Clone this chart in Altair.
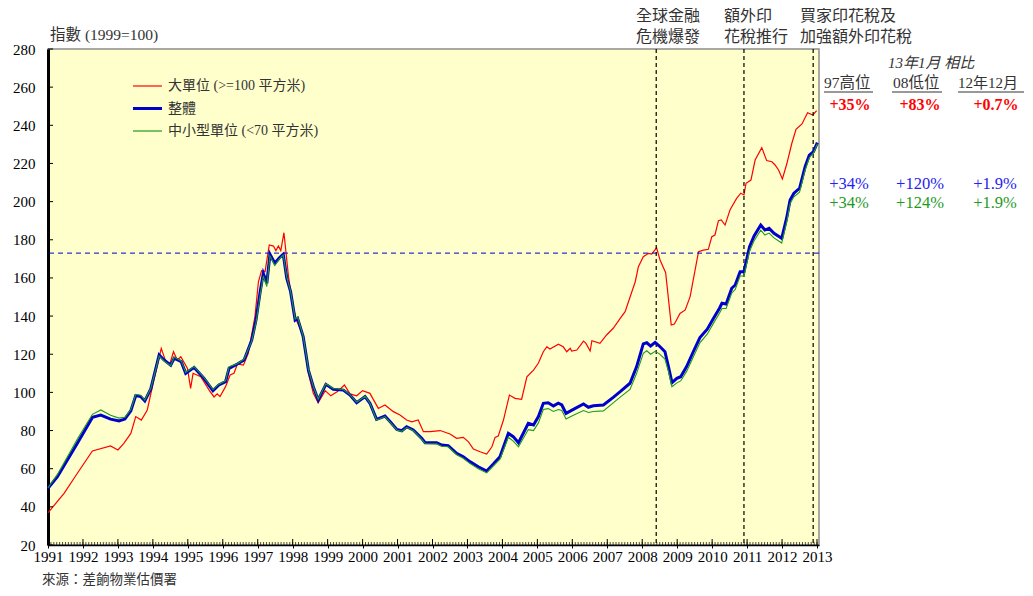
import altair as alt
import pandas as pd

# ---------------- data ----------------
S_LARGE = "大單位 (>=100 平方米)"
S_ALL = "整體"
S_SMALL = "中小型單位 (<70 平方米)"

red_x = [1991.00, 1991.46, 1991.84, 1992.27, 1992.79, 1993.00, 1993.17, 1993.37, 1993.51, 1993.67,
         1993.84, 1994.03, 1994.24, 1994.37, 1994.49, 1994.59, 1994.70, 1994.80, 1994.99, 1995.08,
         1995.15, 1995.37, 1995.61, 1995.75, 1995.84, 1995.92, 1996.08, 1996.21, 1996.32, 1996.42,
         1996.59, 1996.73, 1996.92, 1997.02, 1997.11, 1997.21, 1997.33, 1997.45, 1997.52, 1997.59,
         1997.66, 1997.75, 1997.88, 1998.02, 1998.12, 1998.29, 1998.45, 1998.59, 1998.73, 1998.93,
         1999.09, 1999.28, 1999.48, 1999.64, 1999.83, 2000.00, 2000.21, 2000.45, 2000.64, 2000.88,
         2001.07, 2001.26, 2001.41, 2001.59, 2001.74, 2001.93, 2002.22, 2002.50, 2002.69, 2002.88,
         2003.03, 2003.17, 2003.36, 2003.55, 2003.70, 2003.79, 2003.88, 2004.03, 2004.20, 2004.36,
         2004.55, 2004.70, 2004.89, 2005.03, 2005.17, 2005.27, 2005.36, 2005.60, 2005.74, 2005.84,
         2005.94, 2005.98, 2006.13, 2006.32, 2006.39, 2006.51, 2006.56, 2006.79, 2006.98, 2007.17,
         2007.37, 2007.51, 2007.80, 2007.89, 2008.03, 2008.18, 2008.27, 2008.41, 2008.51, 2008.67,
         2008.83, 2008.92, 2009.08, 2009.23, 2009.37, 2009.61, 2009.75, 2009.89, 2009.99, 2010.08,
         2010.18, 2010.26, 2010.37, 2010.51, 2010.70, 2010.82, 2010.91, 2010.97, 2011.11, 2011.23,
         2011.42, 2011.56, 2011.71, 2011.80, 2011.90, 2012.01, 2012.14, 2012.28, 2012.40, 2012.57,
         2012.73, 2012.88, 2012.99]
red_y = [36.9, 47.1, 57.6, 69.3, 71.9, 69.8, 73.3, 78.5, 87.3, 85.5,
         90.8, 106.5, 123.1, 116.1, 115.2, 121.3, 117.0, 118.7, 112.6, 102.1,
         110.0, 108.2, 101.2, 97.6, 99.2, 97.8, 103.0, 109.1, 110.0, 114.9,
         114.3, 120.5, 139.7, 158.0, 163.8, 163.3, 177.3, 176.7, 174.3, 176.7,
         174.3, 183.7, 160.7, 144.1, 137.2, 130.3, 110.0, 99.5, 94.6, 100.9,
         98.2, 100.4, 103.9, 99.2, 98.2, 100.9, 99.5, 91.6, 93.4, 89.9,
         88.1, 85.5, 84.6, 85.5, 79.4, 79.4, 80.0, 78.2, 75.9, 76.4,
         74.1, 70.3, 68.9, 67.7, 71.5, 76.4, 77.1, 85.5, 98.6, 96.9,
         96.4, 108.2, 111.7, 115.4, 121.3, 123.9, 122.7, 125.3, 123.9, 121.3,
         123.1, 121.7, 122.2, 126.9, 125.7, 121.7, 127.1, 125.7, 130.1, 133.6,
         138.8, 142.3, 158.0, 165.9, 171.1, 172.9, 172.5, 175.8, 169.4, 162.7,
         135.3, 135.8, 141.4, 143.2, 150.2, 173.7, 174.6, 175.0, 181.6, 182.5,
         190.0, 190.4, 187.7, 195.6, 201.7, 204.4, 203.5, 209.6, 211.3, 221.8,
         228.3, 221.5, 220.9, 219.2, 216.6, 211.9, 220.1, 230.6, 237.9, 240.7,
         246.6, 245.4, 247.7]

all_x = [1991.00, 1991.27, 1991.84, 1992.27, 1992.51, 1992.79, 1993.03, 1993.20, 1993.37, 1993.51,
         1993.65, 1993.77, 1993.94, 1994.18, 1994.32, 1994.51, 1994.61, 1994.81, 1994.94, 1995.18,
         1995.46, 1995.72, 1995.89, 1996.08, 1996.18, 1996.42, 1996.61, 1996.83, 1996.95, 1997.07,
         1997.16, 1997.26, 1997.35, 1997.49, 1997.62, 1997.73, 1997.83, 1997.94, 1998.07, 1998.14,
         1998.30, 1998.45, 1998.59, 1998.73, 1998.95, 1999.16, 1999.45, 1999.64, 1999.83, 2000.07,
         2000.21, 2000.40, 2000.64, 2000.79, 2000.98, 2001.12, 2001.26, 2001.45, 2001.69, 2001.79,
         2002.12, 2002.26, 2002.45, 2002.69, 2002.88, 2003.07, 2003.31, 2003.55, 2003.74, 2003.93,
         2004.17, 2004.31, 2004.46, 2004.74, 2004.89, 2005.03, 2005.17, 2005.31, 2005.46, 2005.60,
         2005.70, 2005.82, 2006.03, 2006.32, 2006.46, 2006.60, 2006.89, 2007.17, 2007.37, 2007.65,
         2007.84, 2008.03, 2008.13, 2008.24, 2008.37, 2008.49, 2008.65, 2008.75, 2008.85, 2008.99,
         2009.10, 2009.27, 2009.46, 2009.65, 2009.86, 2010.04, 2010.21, 2010.28, 2010.40, 2010.56,
         2010.66, 2010.80, 2010.91, 2011.07, 2011.20, 2011.39, 2011.51, 2011.63, 2011.77, 2011.99,
         2012.13, 2012.23, 2012.34, 2012.50, 2012.66, 2012.78, 2012.90, 2013.01]
all_y = [49.7, 55.8, 73.3, 86.9, 88.1, 86.0, 85.0, 86.0, 90.4, 98.3,
         97.8, 95.5, 101.8, 119.6, 117.0, 114.3, 117.9, 116.1, 110.0, 113.1,
         107.4, 100.9, 103.9, 105.6, 112.6, 114.9, 117.0, 127.5, 137.9, 152.8,
         162.4, 157.2, 172.4, 167.7, 170.6, 172.4, 159.8, 152.8, 137.9, 138.8,
         129.2, 111.7, 103.0, 96.0, 104.2, 101.6, 101.2, 98.6, 94.6, 97.8,
         94.3, 85.9, 87.6, 84.6, 80.6, 79.9, 82.0, 80.3, 75.9, 73.6,
         73.6, 72.4, 72.1, 68.1, 66.3, 63.7, 61.0, 58.8, 62.4, 66.3,
         78.5, 76.8, 73.6, 83.8, 82.9, 87.3, 94.3, 94.6, 92.9, 94.3,
         93.4, 89.0, 91.1, 93.9, 92.2, 93.0, 93.4, 97.4, 100.4, 104.8,
         113.5, 125.4, 126.0, 124.3, 126.2, 124.3, 121.3, 113.5, 105.1, 107.4,
         108.2, 113.5, 121.3, 128.7, 133.1, 138.8, 144.1, 146.7, 146.3, 154.6,
         156.3, 163.3, 163.3, 176.4, 182.0, 187.7, 185.1, 186.0, 183.4, 180.8,
         191.3, 200.8, 204.4, 207.0, 218.3, 224.4, 226.2, 230.9]
small_y = [50.0, 57.0, 75.5, 88.5, 90.8, 88.0, 86.5, 87.0, 91.0, 99.0,
           98.5, 96.0, 102.0, 119.0, 116.5, 114.0, 118.5, 116.5, 110.5, 113.5,
           107.8, 101.5, 104.3, 106.0, 113.5, 115.0, 117.5, 127.0, 136.5, 151.0,
           161.0, 155.5, 171.5, 166.5, 170.0, 172.0, 160.5, 153.0, 138.5, 139.5,
           129.5, 112.0, 103.0, 96.5, 104.5, 102.0, 101.5, 98.8, 94.8, 98.0,
           94.3, 85.5, 87.3, 84.3, 80.3, 79.6, 81.7, 80.0, 75.5, 73.2,
           73.0, 71.8, 71.5, 67.3, 65.5, 62.8, 60.0, 57.8, 61.5, 65.0,
           76.5, 74.5, 71.5, 80.5, 80.0, 84.0, 91.0, 91.5, 90.0, 91.0,
           90.5, 86.0, 88.0, 90.5, 89.5, 90.0, 90.3, 94.5, 97.5, 101.5,
           110.0, 120.5, 121.8, 120.0, 121.5, 120.2, 117.5, 111.0, 103.0, 105.0,
           106.0, 111.0, 118.5, 126.0, 130.5, 136.3, 141.5, 144.0, 144.0, 152.0,
           154.0, 161.0, 161.0, 174.0, 179.5, 185.0, 182.5, 183.5, 181.0, 178.3,
           189.0, 199.0, 202.5, 205.0, 216.5, 223.0, 225.5, 230.3]

year_ticks = list(range(1991, 2014))
y_ticks = list(range(20, 281, 20))
event_years = [2008.40, 2010.91, 2012.89]
peak_1997 = 173

# ---------------- styling ----------------
W, H = 771, 496
OX, OY = 48, 49  # page position of plot origin
FONT = "'Liberation Serif', 'Noto Sans CJK TC'"
RED = "#FF0000"
BLUE = "#0000CC"
GREEN = "#1E9A1E"

xscale = alt.Scale(domain=[1991, 2013.057], nice=False, zero=False)
yscale = alt.Scale(domain=[20, 280], nice=False, zero=False)

df_red = pd.DataFrame({"x": red_x, "v": red_y, "s": S_LARGE})
df_all = pd.DataFrame({"x": all_x, "v": all_y, "s": S_ALL})
df_small = pd.DataFrame({"x": all_x, "v": small_y, "s": S_SMALL})

x_axis = alt.Axis(values=year_ticks, format="d", labelFont="Liberation Serif",
                  labelFontSize=15, labelColor="black", labelFlush=False,
                  labelOverlap=False, grid=False, tickSize=3, tickColor="black",
                  domainColor="black", domainWidth=1.5, labelPadding=1, title=None)
y_axis = alt.Axis(values=y_ticks, labelFont="Liberation Serif", labelFontSize=15,
                  labelColor="black", labelFlush=False, grid=False, ticks=False,
                  tickSize=0, domainColor="black", domainWidth=3, labelPadding=13, title=None)

X = alt.X("x:Q", scale=xscale, axis=x_axis, title=None)
Y = alt.Y("v:Q", scale=yscale, axis=y_axis, title=None)

red_line = alt.Chart(df_red).mark_line(color=RED, strokeWidth=1.2).encode(x=X, y=Y)
all_line = alt.Chart(df_all).mark_line(color=BLUE, strokeWidth=3).encode(x=X, y=Y)
small_line = alt.Chart(df_small).mark_line(color=GREEN, strokeWidth=1.1).encode(x=X, y=Y)

peak_rule = alt.Chart(pd.DataFrame({"v": [peak_1997]})).mark_rule(
    color=BLUE, strokeWidth=1, strokeDash=[5, 4]).encode(y=Y)
event_rules = alt.Chart(pd.DataFrame({"x": event_years})).mark_rule(
    color="black", strokeWidth=1.2, strokeDash=[4, 3]).encode(x=X)

# minor month ticks and year ticks inside the bottom axis
month_pos = [1991 + m / 12 for m in range(0, 12 * 22 + 1)]
minor_ticks = alt.Chart(pd.DataFrame({"x": month_pos})).mark_rule(color="black", strokeWidth=0.7).encode(
    x=X, y=alt.value(H), y2=alt.value(H - 3))
major_ticks = alt.Chart(pd.DataFrame({"x": year_ticks})).mark_rule(color="black", strokeWidth=1).encode(
    x=X, y=alt.value(H), y2=alt.value(H - 6))
y_inner_ticks = alt.Chart(pd.DataFrame({"v": y_ticks})).mark_rule(color="black", strokeWidth=1).encode(
    y=Y, x=alt.value(0), x2=alt.value(5))


def label(txt, px, py, size=15, color="#333333", weight="normal", style="normal", align="left"):
    return alt.Chart(pd.DataFrame({"t": [txt]})).mark_text(
        align=align, baseline="middle", font=FONT, fontSize=size, color=color,
        fontWeight=weight, fontStyle=style).encode(
        x=alt.value(px - OX), y=alt.value(py - OY), text="t:N")


def hline(px1, px2, py, color, width=1):
    return alt.Chart(pd.DataFrame({"a": [0]})).mark_rule(color=color, strokeWidth=width).encode(
        x=alt.value(px1 - OX), x2=alt.value(px2 - OX), y=alt.value(py - OY))


# legend (drawn by hand inside the plot)
legend = [
    hline(133, 162, 86, RED, 1.2), label(S_LARGE, 168, 86, 14),
    hline(133, 162, 108.5, BLUE, 3), label(S_ALL, 168, 108.5, 14),
    hline(133, 162, 131, GREEN, 1.2), label(S_SMALL, 168, 131, 14),
]

texts = [
    label("指數 (1999=100)", 50, 35, 15.5),
    label("全球金融", 636, 16, 16), label("危機爆發", 636, 37, 16),
    label("額外印", 724, 16, 16), label("花稅推行", 724, 37, 16),
    label("買家印花稅及", 800, 16, 16), label("加強額外印花稅", 800, 37, 16),
    label("13年1月 相比", 888, 63, 15, style="italic"),
    label("97高位", 824, 83, 15.5), label("08低位", 893, 83, 15.5), label("12年12月", 958, 83, 15),
    hline(824, 873, 92, "#333333"), hline(892, 942, 92, "#333333"), hline(958, 1024, 92, "#333333"),
    label("+35%", 850, 105, 16, color=RED, weight="bold", align="center"),
    label("+83%", 920, 105, 16, color=RED, weight="bold", align="center"),
    label("+0.7%", 996, 105, 16, color=RED, weight="bold", align="center"),
    label("+34%", 849, 184, 16.5, color="#2323F0", align="center"),
    label("+120%", 920, 184, 16.5, color="#2323F0", align="center"),
    label("+1.9%", 995, 184, 16.5, color="#2323F0", align="center"),
    label("+34%", 849, 203, 16.5, color=GREEN, align="center"),
    label("+124%", 920, 203, 16.5, color=GREEN, align="center"),
    label("+1.9%", 995, 203, 16.5, color=GREEN, align="center"),
    label("來源：差餉物業估價署", 42, 580, 13.5),
]

chart = alt.layer(
    red_line, peak_rule, event_rules, all_line, small_line,
    minor_ticks, major_ticks, y_inner_ticks, *legend, *texts
).properties(
    width=W, height=H,
    autosize=alt.AutoSizeParams(type="none"),
    padding={"left": OX - 8, "top": OY - 8, "right": 206, "bottom": 42},
).configure_view(fill="#FFFFCC", stroke="#8C8C8C", strokeWidth=1.5)

chart.save("out.html", embed_options={"renderer": "svg", "actions": False})
